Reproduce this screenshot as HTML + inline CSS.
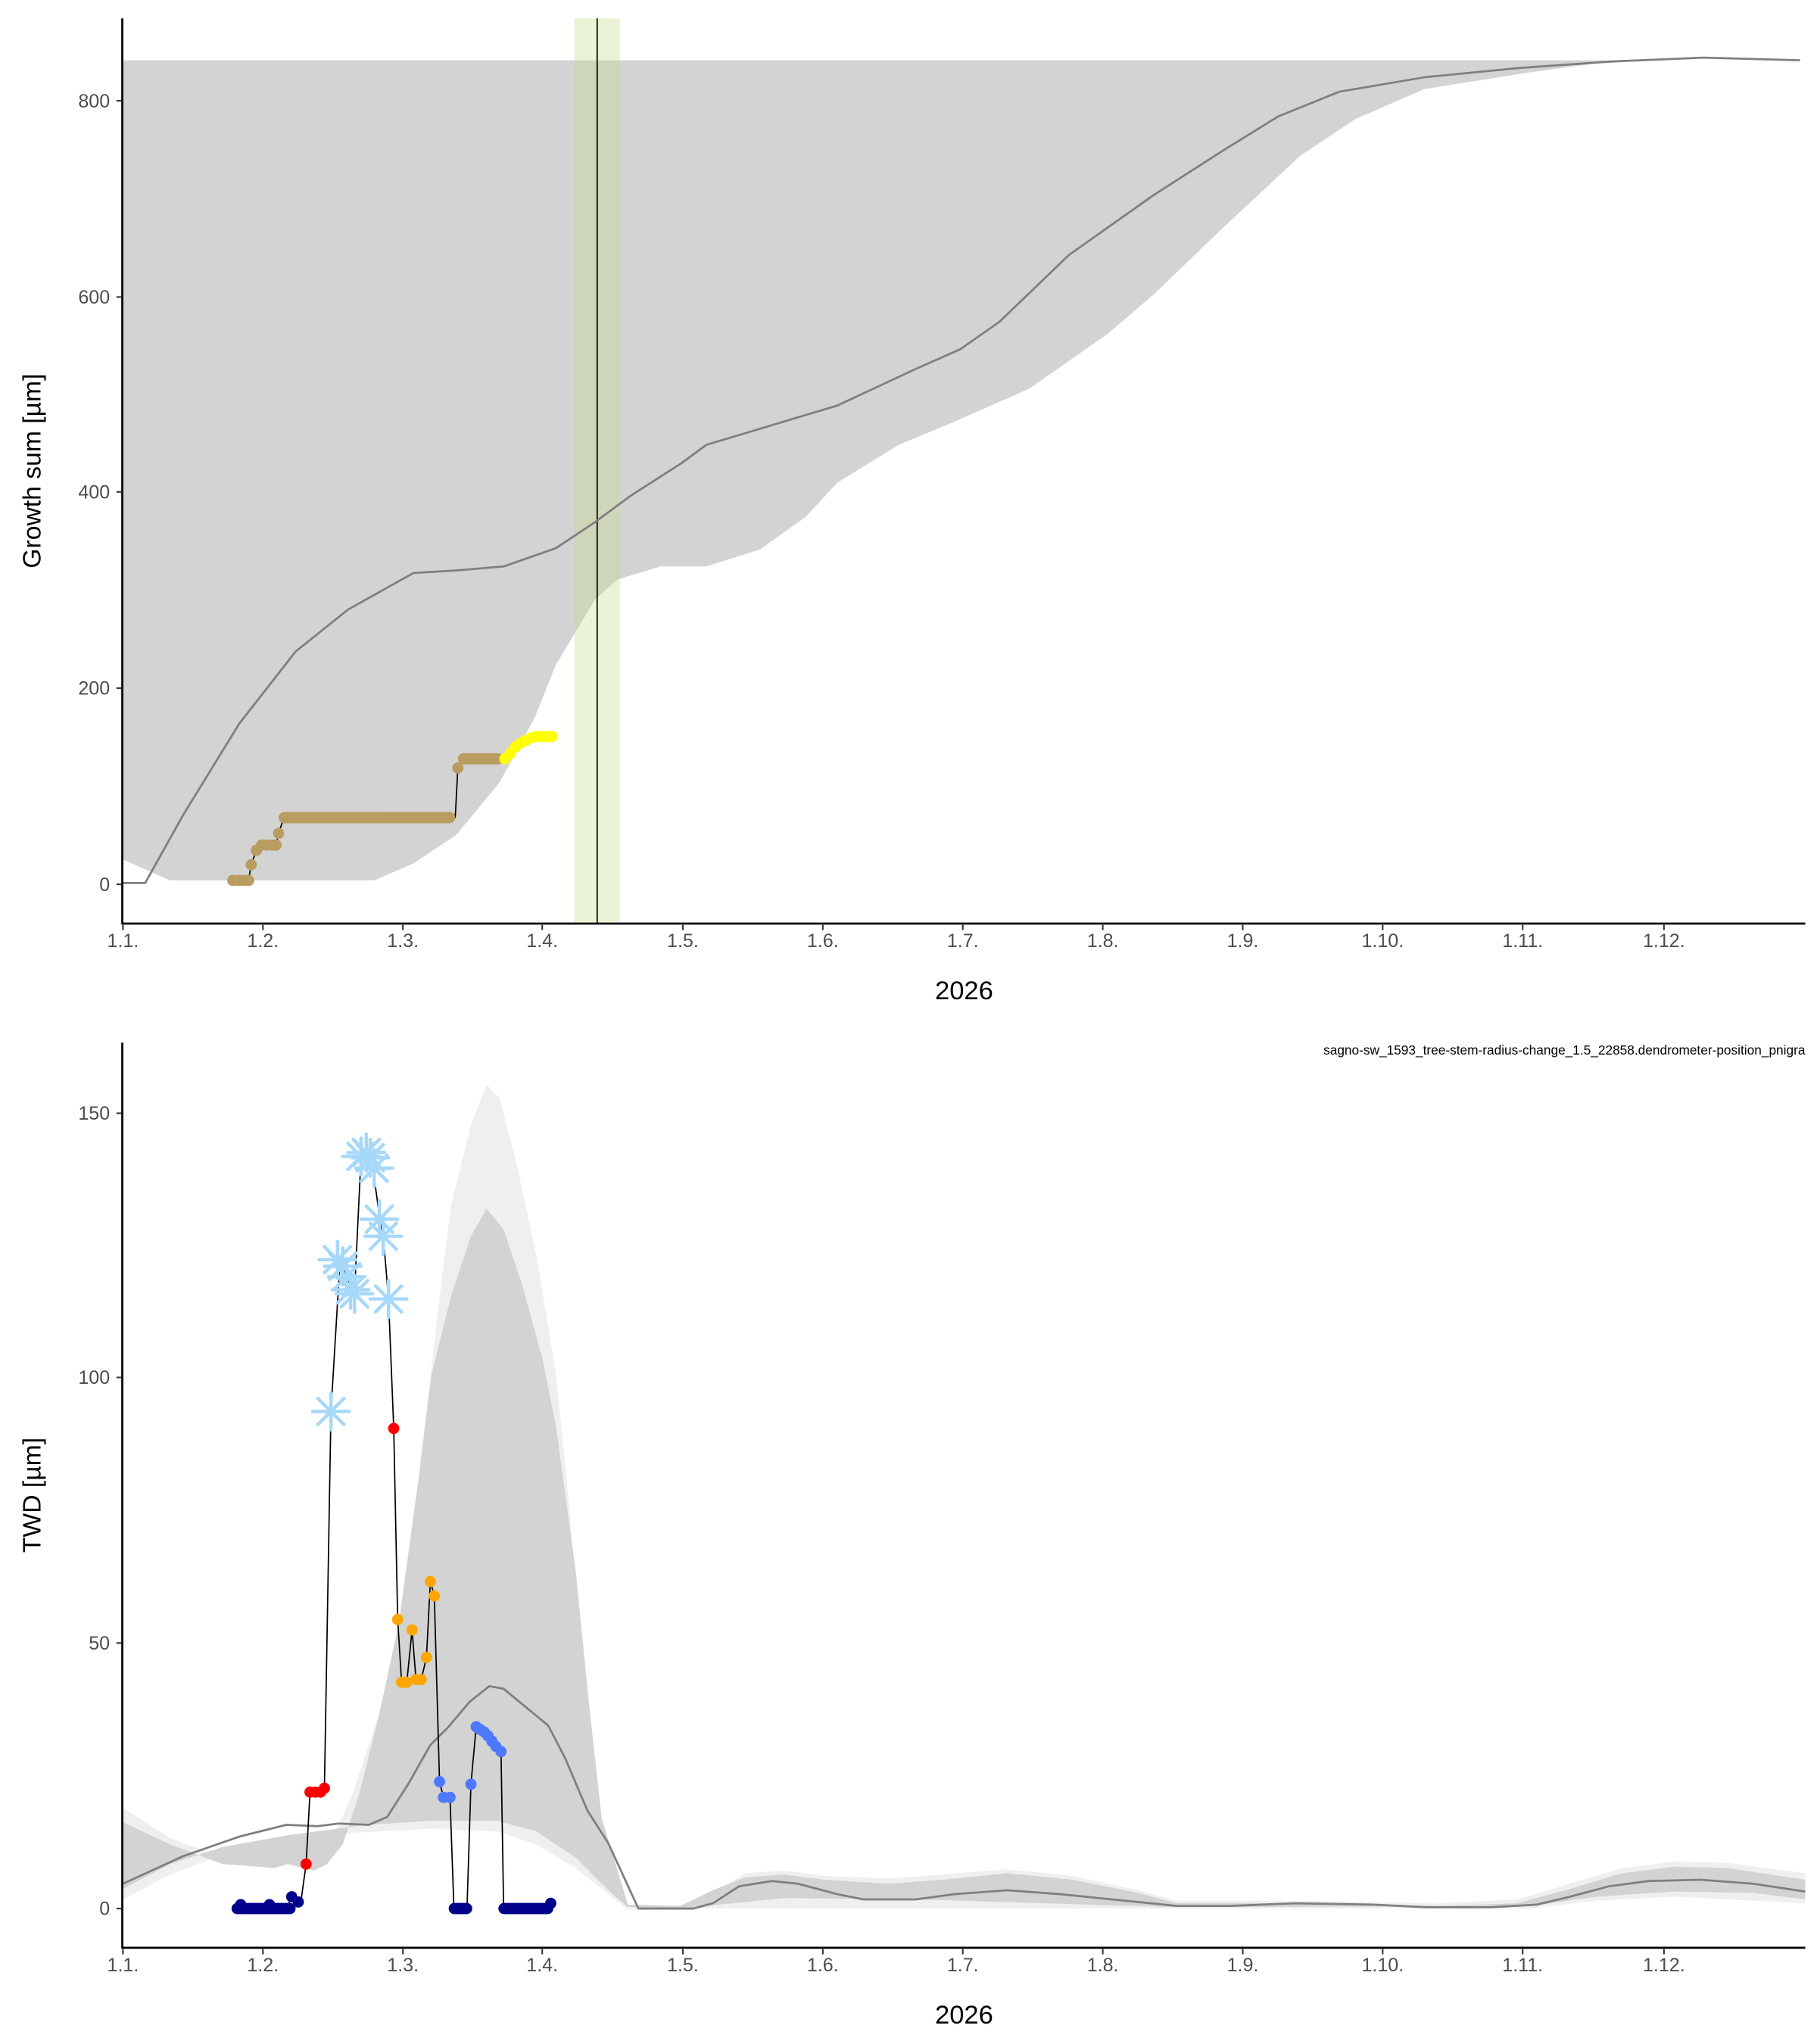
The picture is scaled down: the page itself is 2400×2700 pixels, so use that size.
<!DOCTYPE html>
<html><head><meta charset="utf-8"><style>
html,body{margin:0;padding:0;background:#fff;}
svg{display:block;}
text{font-family:"Liberation Sans",sans-serif;}
</style></head><body>
<svg width="2400" height="2700" viewBox="0 0 1389 1562.5" xmlns="http://www.w3.org/2000/svg">
<defs>
<g id="sf" stroke="#a6d8fa" stroke-width="2.6" stroke-linecap="round">
<line x1="-14" y1="0" x2="14" y2="0"/><line x1="0" y1="-14" x2="0" y2="14"/>
<line x1="-10" y1="-10" x2="10" y2="10"/><line x1="-10" y1="10" x2="10" y2="-10"/>
</g>
</defs>
<!-- TOP PANEL -->
<path d="M94,46 L1245,46 L1231,47 L1171,55 L1089,68 L1036,91 L994,119 L935,174 L882,225 L847,255 L787,297 L728,323 L687,340 L640,369 L616,395 L581,420 L540,433 L505,433 L472,443 L455,458 L425,508 L409,548 L382,598 L349,638 L316,660 L286,673 L130,673 L94,657 Z" fill="#d3d3d3"/>
<rect x="439" y="14" width="35" height="692" fill="#c5dc8a" fill-opacity="0.35"/>
<line x1="456.5" y1="14" x2="456.5" y2="706" stroke="#000" stroke-width="1"/>
<polyline fill="none" stroke="#7f7f7f" stroke-width="1.6" stroke-linejoin="round" points="94,675 111,675 140,623 183,553 226,498 266,466 316,438 349,436 385,433 425,419 455,399 482,379 521,354 540,340 600,322 640,310 700,282 734,267 764,246 817,195 882,149 935,115 977,89 1024,70 1089,59 1160,52 1231,47 1302,44 1376,46"/>
<polyline fill="none" stroke="#000" stroke-width="1" points="178,673 190,673 192,661 196,650 200,646 211,646 213,637 217,625 348,625 350,587 354,580 385,580 390,576 398,566 409,562 423,563"/>
<g fill="#b89c60">
<circle cx="178" cy="673" r="4.3"/><circle cx="182" cy="673" r="4.3"/><circle cx="186" cy="673" r="4.3"/><circle cx="190" cy="673" r="4.3"/>
<circle cx="192" cy="661" r="4.3"/><circle cx="196" cy="650" r="4.3"/><circle cx="200" cy="646" r="4.3"/><circle cx="204" cy="646" r="4.3"/><circle cx="208" cy="646" r="4.3"/><circle cx="211" cy="646" r="4.3"/><circle cx="213" cy="637" r="4.3"/>
<rect x="213" y="620.7" width="135" height="8.6" rx="4.3"/>
<circle cx="350" cy="587" r="4.3"/>
<rect x="350" y="575.7" width="35" height="8.6" rx="4.3"/>
</g>
<g fill="#ffff00">
<circle cx="386" cy="580" r="4.3"/><circle cx="390" cy="576" r="4.3"/><circle cx="394" cy="571" r="4.3"/><circle cx="398" cy="568" r="4.3"/><circle cx="402" cy="566" r="4.3"/><circle cx="406" cy="564" r="4.3"/><circle cx="410" cy="563" r="4.3"/><circle cx="414" cy="563" r="4.3"/><circle cx="418" cy="563" r="4.3"/><circle cx="422" cy="563" r="4.3"/>
</g>
<line x1="93.5" y1="14" x2="93.5" y2="706.5" stroke="#000" stroke-width="1.6"/>
<line x1="93" y1="706" x2="1380" y2="706" stroke="#000" stroke-width="1.6"/>
<g stroke="#333" stroke-width="1.2">
<line x1="89" y1="676" x2="93" y2="676"/><line x1="89" y1="526" x2="93" y2="526"/><line x1="89" y1="376" x2="93" y2="376"/><line x1="89" y1="227" x2="93" y2="227"/><line x1="89" y1="77" x2="93" y2="77"/>
</g>
<g font-size="14.5" fill="#4d4d4d" text-anchor="end">
<text x="84" y="681">0</text><text x="84" y="531">200</text><text x="84" y="381">400</text><text x="84" y="232">600</text><text x="84" y="82">800</text>
</g>
<text transform="translate(31,360) rotate(-90)" font-size="19.5" text-anchor="middle" fill="#000">Growth sum [µm]</text>
<g id="xt" stroke="#333" stroke-width="1.2">
<line x1="94" y1="707" x2="94" y2="711"/><line x1="201" y1="707" x2="201" y2="711"/><line x1="308" y1="707" x2="308" y2="711"/><line x1="414.5" y1="707" x2="414.5" y2="711"/><line x1="522" y1="707" x2="522" y2="711"/><line x1="629" y1="707" x2="629" y2="711"/><line x1="736" y1="707" x2="736" y2="711"/><line x1="843" y1="707" x2="843" y2="711"/><line x1="950" y1="707" x2="950" y2="711"/><line x1="1057" y1="707" x2="1057" y2="711"/><line x1="1164" y1="707" x2="1164" y2="711"/><line x1="1272" y1="707" x2="1272" y2="711"/>
</g>
<g font-size="14.5" fill="#4d4d4d" text-anchor="middle">
<text x="94" y="724">1.1.</text><text x="201" y="724">1.2.</text><text x="308" y="724">1.3.</text><text x="414.5" y="724">1.4.</text><text x="522" y="724">1.5.</text><text x="629" y="724">1.6.</text><text x="736" y="724">1.7.</text><text x="843" y="724">1.8.</text><text x="950" y="724">1.9.</text><text x="1057" y="724">1.10.</text><text x="1164" y="724">1.11.</text><text x="1272" y="724">1.12.</text>
</g>
<text x="737" y="764" font-size="20" text-anchor="middle" fill="#000">2026</text>

<!-- BOTTOM PANEL -->
<text x="1380" y="806" font-size="10" text-anchor="end" fill="#000">sagno-sw_1593_tree-stem-radius-change_1.5_22858.dendrometer-position_pnigra</text>
<path d="M94,1382 L130,1405 L170,1420 L200,1425 L230,1425 L245,1420 L255,1405 L270,1370 L290,1310 L305,1250 L320,1130 L335,1000 L345,920 L360,860 L372,829 L382,840 L395,890 L410,960 L425,1050 L435,1150 L445,1280 L455,1380 L470,1440 L480,1459 L520,1459 L540,1450 L570,1432 L600,1430 L630,1434 L680,1436 L720,1433 L770,1429 L820,1434 L870,1445 L900,1453 L1000,1453 L1100,1455 L1160,1452 L1200,1440 L1240,1428 L1280,1423 L1320,1424 L1380,1432 L1380,1455 L1280,1450 L1220,1453 L1170,1459 L520,1459 L480,1460 L470,1452 L440,1428 L410,1410 L380,1400 L330,1398 L270,1401 L220,1408 L170,1418 L130,1433 L94,1452 Z" fill="#efefef"/>
<path d="M94,1393 L130,1410 L170,1425 L210,1428 L220,1425 L240,1430 L250,1425 L262,1410 L275,1370 L290,1310 L305,1240 L320,1130 L330,1050 L345,990 L360,945 L372,924 L385,940 L400,985 L415,1040 L425,1090 L440,1200 L450,1300 L460,1390 L480,1456 L520,1457 L545,1445 L570,1435 L600,1433 L630,1437 L680,1440 L720,1437 L770,1432 L820,1437 L870,1447 L900,1455 L1000,1455 L1100,1457 L1160,1455 L1200,1444 L1240,1432 L1280,1427 L1320,1428 L1380,1437 L1380,1452 L1340,1447 L1280,1446 L1220,1450 L1170,1457 L900,1458 L700,1452 L600,1451 L520,1459 L480,1458 L465,1445 L440,1420 L410,1400 L380,1392 L330,1392 L280,1395 L220,1403 L170,1412 L130,1425 L94,1444 Z" fill="#d3d3d3"/>
<polyline fill="none" stroke="#7f7f7f" stroke-width="1.6" stroke-linejoin="round" points="94,1440 140,1419 183,1404 219,1395 243,1396 259,1394 282,1395 296,1389 312,1364 329,1334 342,1321 359,1301 374,1289 385,1291 419,1319 432,1344 449,1384 465,1409 488,1459 530,1459 545,1455 565,1442 590,1438 610,1440 640,1448 660,1452 700,1452 730,1448 770,1445 810,1448 850,1452 900,1457 940,1457 990,1455 1050,1456 1090,1458 1140,1458 1175,1456 1200,1450 1230,1442 1260,1438 1300,1437 1340,1440 1380,1446"/>
<polyline fill="none" stroke="#000" stroke-width="1" points="181,1459 184,1456 188,1459 200,1459 206,1456 210,1459 219,1459 223,1450 226,1454 230,1454 234,1425 237,1370 246,1370 248,1367 253,1079 260,963 265,976 271,989 276,884 281,883 285,893 291,936 293,945 297,993 301,1092 304,1238 307,1286 311,1286 315,1246 318,1284 322,1284 326,1267 329,1209 332,1220 336,1362 339,1374 344,1374 347,1459 357,1459 360,1364 364,1320 369,1323 374,1328 379,1335 383,1339 385,1459 419,1459 421,1455"/>
<g fill="#00008b">
<rect x="177" y="1454.7" width="49" height="8.6" rx="4.3"/><circle cx="184" cy="1456" r="4.3"/><circle cx="206" cy="1456" r="4.3"/><circle cx="223" cy="1450" r="4.3"/><circle cx="228" cy="1454" r="4.3"/>
<rect x="343" y="1454.7" width="18" height="8.6" rx="4.3"/>
<rect x="381" y="1454.7" width="42" height="8.6" rx="4.3"/><circle cx="421" cy="1455" r="4.3"/>
</g>
<g fill="#ff0000">
<circle cx="234" cy="1425" r="4.3"/><circle cx="237" cy="1370" r="4.3"/><circle cx="241" cy="1370" r="4.3"/><circle cx="245" cy="1370" r="4.3"/><circle cx="248" cy="1367" r="4.3"/><circle cx="301" cy="1092" r="4.3"/>
</g>
<g fill="#ffa500">
<circle cx="304" cy="1238" r="4.3"/><circle cx="307" cy="1286" r="4.3"/><circle cx="311" cy="1286" r="4.3"/><circle cx="315" cy="1246" r="4.3"/><circle cx="318" cy="1284" r="4.3"/><circle cx="322" cy="1284" r="4.3"/><circle cx="326" cy="1267" r="4.3"/><circle cx="329" cy="1209" r="4.3"/><circle cx="332" cy="1220" r="4.3"/>
</g>
<g fill="#4d79ff">
<circle cx="336" cy="1362" r="4.3"/><circle cx="339" cy="1374" r="4.3"/><circle cx="344" cy="1374" r="4.3"/>
<circle cx="360" cy="1364" r="4.3"/><circle cx="364" cy="1320" r="4.3"/><circle cx="367" cy="1322" r="4.3"/><circle cx="370" cy="1324" r="4.3"/><circle cx="373" cy="1327" r="4.3"/><circle cx="376" cy="1331" r="4.3"/><circle cx="379" cy="1335" r="4.3"/><circle cx="383" cy="1339" r="4.3"/>
</g>
<use href="#sf" x="253" y="1079"/><use href="#sf" x="258" y="963"/><use href="#sf" x="262" y="968"/><use href="#sf" x="265" y="976"/><use href="#sf" x="268" y="986"/><use href="#sf" x="271" y="989"/><use href="#sf" x="276" y="884"/><use href="#sf" x="280" y="881"/><use href="#sf" x="283" y="885"/><use href="#sf" x="286" y="893"/><use href="#sf" x="290" y="932"/><use href="#sf" x="293" y="945"/><use href="#sf" x="297" y="993"/>
<line x1="93.5" y1="797" x2="93.5" y2="1489.5" stroke="#000" stroke-width="1.6"/>
<line x1="93" y1="1489" x2="1380" y2="1489" stroke="#000" stroke-width="1.6"/>
<g stroke="#333" stroke-width="1.2">
<line x1="89" y1="1459" x2="93" y2="1459"/><line x1="89" y1="1256" x2="93" y2="1256"/><line x1="89" y1="1053" x2="93" y2="1053"/><line x1="89" y1="851" x2="93" y2="851"/>
</g>
<g font-size="14.5" fill="#4d4d4d" text-anchor="end">
<text x="84" y="1464">0</text><text x="84" y="1261">50</text><text x="84" y="1058">100</text><text x="84" y="856">150</text>
</g>
<text transform="translate(31,1143) rotate(-90)" font-size="19.5" text-anchor="middle" fill="#000">TWD [µm]</text>
<use href="#xt" y="783"/>
<g font-size="14.5" fill="#4d4d4d" text-anchor="middle">
<text x="94" y="1507">1.1.</text><text x="201" y="1507">1.2.</text><text x="308" y="1507">1.3.</text><text x="414.5" y="1507">1.4.</text><text x="522" y="1507">1.5.</text><text x="629" y="1507">1.6.</text><text x="736" y="1507">1.7.</text><text x="843" y="1507">1.8.</text><text x="950" y="1507">1.9.</text><text x="1057" y="1507">1.10.</text><text x="1164" y="1507">1.11.</text><text x="1272" y="1507">1.12.</text>
</g>
<text x="737" y="1547" font-size="20" text-anchor="middle" fill="#000">2026</text>
</svg>
</body></html>
